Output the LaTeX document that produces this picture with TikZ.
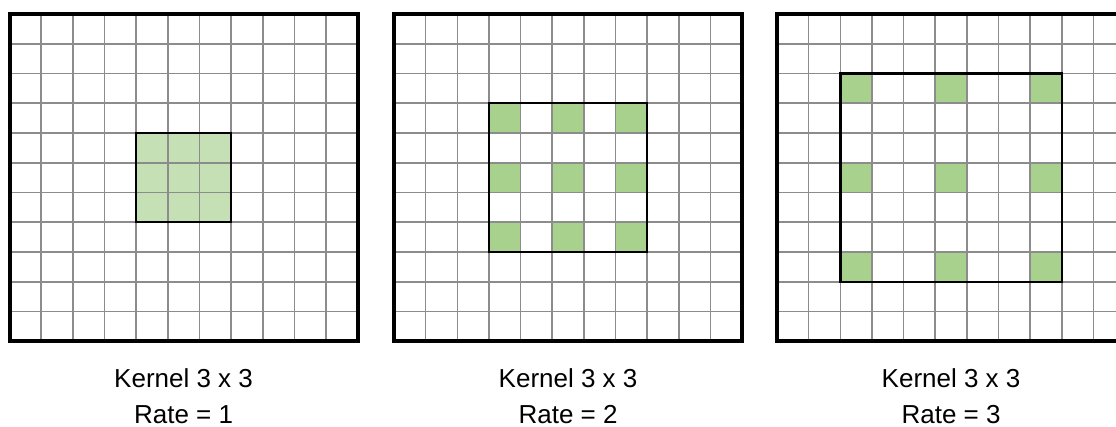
\documentclass[tikz,border=0pt]{standalone}
\usepackage{fontspec}
\setmainfont{Liberation Sans}
\definecolor{tapgreen}{HTML}{A9D18E}
\definecolor{tapgreenlt}{HTML}{C5E0B4}

\begin{document}
\begin{tikzpicture}[x=1pt, y=-1pt,
  gridline/.style={draw=black!45, line width=1.6pt},
  border/.style={draw=black, line width=4pt},
  kernelbox/.style={draw=black, line width=2.4pt},
  caption/.style={anchor=base, font=\fontsize{26}{30}\selectfont}]
  \clip (0,0) rectangle (1116,427);
  \fill[white] (0,0) rectangle (1116,427);
  \def\cw{31.65}
  \def\ch{29.75}
  % 三个面板：扩张率、左边界、颜色
  \foreach \r/\xo/\col in {1/9.5/tapgreenlt, 2/394/tapgreen, 3/777/tapgreen}{
    % 3x3 卷积核的采样点
    \foreach \i in {-1,0,1}
      \foreach \j in {-1,0,1}
        \fill[\col] ({\xo+(5+\i*\r)*\cw}, {14+(5+\j*\r)*\ch}) rectangle ++(\cw,\ch);
    % 11x11 输入网格
    \foreach \n in {1,...,10}{
      \draw[gridline] ({\xo+\n*\cw},14) -- ++(0,{11*\ch});
      \draw[gridline] (\xo,{14+\n*\ch}) -- ++({11*\cw},0);
    }
    \draw[kernelbox] ({\xo+(5-\r)*\cw},{14+(5-\r)*\ch})
      rectangle ({\xo+(6+\r)*\cw},{14+(6+\r)*\ch});
    \draw[border] (\xo,14) rectangle ++({11*\cw},{11*\ch});
    \node[caption] (kernelcap\r) at ({\xo+5.5*\cw}, 387) {Kernel 3 x 3};
    \node[caption] (ratecap\r) at ({\xo+5.5*\cw}, 423) {Rate = \r};
  }
\end{tikzpicture}
\end{document}
